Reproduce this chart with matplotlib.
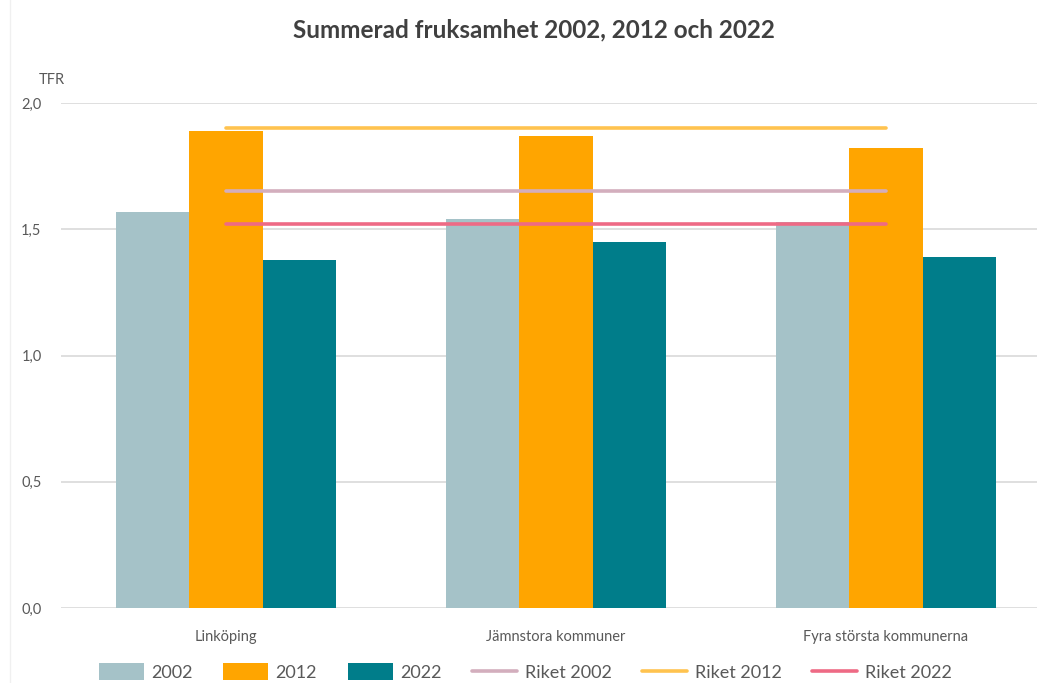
import matplotlib
matplotlib.use("Agg")
import matplotlib.pyplot as plt
from matplotlib.lines import Line2D
import numpy as np

categories = ["Linköping", "Jämnstora kommuner", "Fyra största kommunerna"]
years = ["2002", "2012", "2022"]
values_2002 = [1.57, 1.54, 1.53]
values_2012 = [1.89, 1.87, 1.82]
values_2022 = [1.38, 1.45, 1.39]
riket_labels = ["Riket 2002", "Riket 2012", "Riket 2022"]
riket_values = [1.65, 1.90, 1.52]
yticks = [0.0, 0.5, 1.0, 1.5, 2.0]
ytick_labels = ["0,0", "0,5", "1,0", "1,5", "2,0"]

bar_colors = ["#A5C2C8", "#FFA500", "#007D8A"]
line_colors = ["#D3AEBD", "#FFC34F", "#EE6A85"]

plt.rcParams['font.family'] = ['Lato', 'DejaVu Sans']

fig = plt.figure(figsize=(10.37, 6.83), dpi=100)
ax = fig.add_axes([61/1037, 75/683, (1051-61)/1037, (608-103)/683])

# faint chart border on the left
fig.add_artist(Line2D([10/1037, 10/1037], [0, 1], color='#F0F0F0', lw=1))

x = np.arange(len(categories))
w = 0.222
series = [values_2002, values_2012, values_2022]
handles = []
for i, (vals, c, lab) in enumerate(zip(series, bar_colors, years)):
    b = ax.bar(x + (i - 1) * w, vals, width=w, color=c, label=lab, zorder=2)
    handles.append(b)
for v, c, lab in zip(riket_values, line_colors, riket_labels):
    ln, = ax.plot([x[0], x[-1]], [v, v], color=c, lw=2.6, label=lab, zorder=3,
                  solid_capstyle='round')
    handles.append(ln)

ax.set_xlim(-0.5, 2.5)
ax.set_ylim(0, 2.0)
ax.set_yticks(yticks)
ax.set_yticklabels(ytick_labels)
ax.set_xticks(x)
ax.set_xticklabels(categories)
ax.grid(axis='y', color='#D9D9D9', lw=1.2, zorder=0)
ax.set_axisbelow(True)
for s in ax.spines.values():
    s.set_visible(False)
ax.tick_params(axis='both', length=0, colors='#595959', labelsize=10.5)
ax.tick_params(axis='x', pad=16)
ax.tick_params(axis='y', pad=14)

fig.text(52/1037, 1 - 80/683, "TFR", ha='center', va='center', fontsize=10.5, color='#595959')
fig.text(534/1037, 1 - 30/683, "Summerad fruksamhet 2002, 2012 och 2022", ha='center', va='center',
         fontsize=17.5, fontweight='bold', color='#404040')

leg = fig.legend(handles=handles, labels=years + riket_labels, loc='center', ncol=6,
                 bbox_to_anchor=(525/1037, 1 - 672/683), frameon=False, fontsize=13,
                 handlelength=2.5, handleheight=1.1, handletextpad=0.4, columnspacing=1.7)
for t in leg.get_texts():
    t.set_color('#595959')

fig.savefig("out.png", dpi=100)
